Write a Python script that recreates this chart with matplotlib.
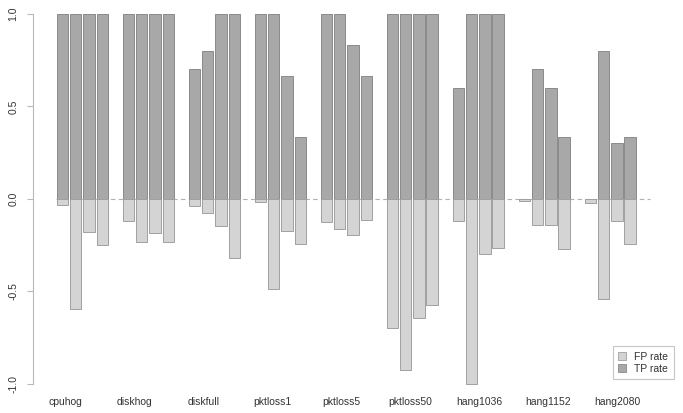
import numpy as np
import matplotlib.pyplot as plt
from matplotlib.patches import Patch

plt.rcParams['font.family'] = ['Liberation Sans', 'DejaVu Sans']

faults = ["cpuhog", "diskhog", "diskfull", "pktloss1", "pktloss5",
          "pktloss50", "hang1036", "hang1152", "hang2080"]

# 4 methods per fault
tp_rate = [
    [1.0, 1.0, 1.0, 1.0],
    [1.0, 1.0, 1.0, 1.0],
    [0.7, 0.8, 1.0, 1.0],
    [1.0, 1.0, 0.667, 0.333],
    [1.0, 1.0, 0.833, 0.667],
    [1.0, 1.0, 1.0, 1.0],
    [0.6, 1.0, 1.0, 1.0],
    [0.0, 0.7, 0.6, 0.333],
    [0.0, 0.8, 0.3, 0.333],
]
fp_rate = [
    [0.031, 0.596, 0.18, 0.25],
    [0.117, 0.232, 0.184, 0.232],
    [0.038, 0.077, 0.145, 0.318],
    [0.015, 0.485, 0.174, 0.242],
    [0.122, 0.161, 0.194, 0.111],
    [0.70, 0.922, 0.642, 0.572],
    [0.12, 1.0, 0.30, 0.264],
    [0.01, 0.14, 0.14, 0.273],
    [0.024, 0.54, 0.12, 0.242],
]

tp = np.array(tp_rate)
fp = np.array(fp_rate)
ng, nb = tp.shape

# R barplot(beside=TRUE) layout: one empty slot before each group
pos = np.array([[1 + g * (nb + 1) + j + 0.5 for j in range(nb)] for g in range(ng)])

tp_col, tp_edge = "#a8a8a8", "#8a8a8a"
fp_col, fp_edge = "#d4d4d4", "#a0a0a0"

fig = plt.figure(figsize=(6.83, 4.13), dpi=100)
ax = fig.add_axes([0.048, 0.0344, 0.9183, 0.9676])

ax.hlines(0, 1, 46, colors="#b0b0b0", linestyles=(0, (4, 3)), linewidth=0.8, zorder=1)

w = 0.86
ax.bar(pos.ravel(), tp.ravel(), width=w, color=tp_col, edgecolor=tp_edge, linewidth=0.7, zorder=2)
ax.bar(pos.ravel(), -fp.ravel(), width=w, color=fp_col, edgecolor=fp_edge, linewidth=0.7, zorder=2)

span = pos.max() + 0.5 - 1
ax.set_xlim(1 - 0.04 * span, pos.max() + 0.5 + 0.04 * span)
ax.set_ylim(-1.08, 1.08)

for s in ["top", "right", "bottom"]:
    ax.spines[s].set_visible(False)
ax.spines["left"].set_bounds(-1, 1)
ax.spines["left"].set_color("#b8b8b8")
ax.spines["left"].set_linewidth(0.8)
ax.set_yticks([-1.0, -0.5, 0.0, 0.5, 1.0])
ax.set_yticklabels(["-1.0", "-0.5", "0.0", "0.5", "1.0"], rotation=90, va="center",
                   fontsize=7.5, color="#333333")
ax.tick_params(axis="y", length=4.5, width=0.8, color="#b8b8b8", pad=6)
ax.set_xticks([])

label_x = np.linspace(1.7, 43.5, ng)
for x, name in zip(label_x, faults):
    ax.text(x, -1.097, name, ha="center", va="center", fontsize=7.5,
            color="#333333", clip_on=False)

handles = [Patch(facecolor=fp_col, edgecolor=fp_edge, linewidth=0.6, label="FP rate"),
           Patch(facecolor=tp_col, edgecolor=tp_edge, linewidth=0.6, label="TP rate")]
leg = ax.legend(handles=handles, loc="lower right", bbox_to_anchor=(1.03, 0.037),
                fontsize=7.5, frameon=True, fancybox=False, handlelength=0.8,
                handleheight=0.8, handletextpad=0.8, borderpad=0.5, labelspacing=0.2)
leg.get_frame().set_edgecolor("#b8b8b8")
leg.get_frame().set_linewidth(0.8)
for t in leg.get_texts():
    t.set_color("#333333")

fig.savefig("out.png", dpi=100)
